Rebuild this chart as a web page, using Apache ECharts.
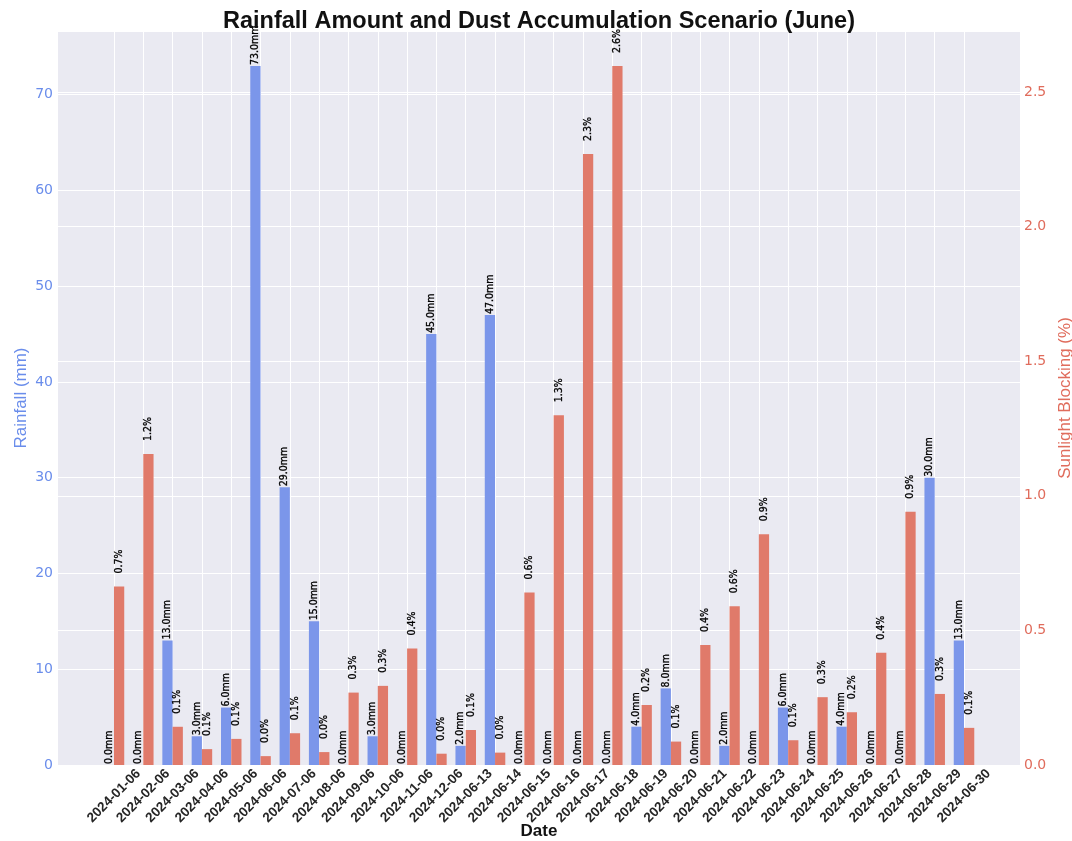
<!DOCTYPE html>
<html>
<head>
<meta charset="utf-8">
<title>Rainfall Amount and Dust Accumulation Scenario (June)</title>
<script src="https://cdn.jsdelivr.net/npm/echarts@6/dist/echarts.min.js"></script>
<style>
    html, body { margin: 0; padding: 0; background: #fff; }
    #chart { width: 1072px; height: 841px; }
</style>
</head>
<body>
<div id="chart"></div>
<script>
    // data
    const dates = [
        '2024-01-06', '2024-02-06', '2024-03-06', '2024-04-06', '2024-05-06', '2024-06-06',
        '2024-07-06', '2024-08-06', '2024-09-06', '2024-10-06', '2024-11-06', '2024-12-06',
        '2024-06-13', '2024-06-14', '2024-06-15', '2024-06-16', '2024-06-17', '2024-06-18',
        '2024-06-19', '2024-06-20', '2024-06-21', '2024-06-22', '2024-06-23', '2024-06-24',
        '2024-06-25', '2024-06-26', '2024-06-27', '2024-06-28', '2024-06-29', '2024-06-30'
    ];
    const rainfall = [0, 0, 13, 3, 6, 73, 29, 15, 0, 3, 0, 45, 2, 47, 0, 0, 0, 0, 4, 8, 0, 2, 0, 6, 0, 4, 0, 0, 30, 13];
    const sunlightBlocking = [
        0.663, 1.155, 0.142, 0.059, 0.097, 0.033, 0.118, 0.048, 0.269, 0.294,
        0.433, 0.042, 0.130, 0.046, 0.641, 1.299, 2.270, 2.597, 0.223, 0.087,
        0.446, 0.590, 0.857, 0.092, 0.252, 0.196, 0.417, 0.941, 0.264, 0.138
    ];
    const rainTicks = [0, 10, 20, 30, 40, 50, 60, 70];
    const blockTicks = [0.0, 0.5, 1.0, 1.5, 2.0, 2.5];

    const blue = '#7B96EA';
    const red = '#E07A6A';
    const blueText = '#6A8DEB';
    const redText = '#E06C5C';
    const sansFont = "'Liberation Sans', Arial, sans-serif";
    const labelFont = "'Liberation Sans Narrow', 'DejaVu Sans Condensed', sans-serif";

    const xIdx = dates.map((d, i) => i);

    const chart = echarts.init(document.getElementById('chart'));

    // rotated value label sitting on top of each bar
    function barLabel(distance, unit) {
        return {
            show: true,
            position: 'top',
            rotate: 90,
            align: 'left',
            verticalAlign: 'middle',
            distance: distance,
            fontFamily: labelFont,
            fontSize: 10.5,
            color: '#000',
            textBorderColor: '#000',
            textBorderWidth: 0.3,
            formatter: p => p.value[1].toFixed(1) + unit
        };
    }

    const option = {
        animation: false,
        backgroundColor: '#fff',
        title: {
            text: 'Rainfall Amount and Dust Accumulation Scenario (June)',
            left: 534,
            top: 5,
            textAlign: 'center',
            textStyle: {
                fontFamily: sansFont,
                fontSize: 23.5,
                fontWeight: 'bold',
                color: '#111'
            }
        },
        grid: {
            left: 58,
            right: 52,
            top: 31,
            bottom: 76,
            show: true,
            backgroundColor: '#EAEAF2',
            borderWidth: 0,
            containLabel: false,
            outerBoundsMode: 'none'
        },
        xAxis: {
            type: 'value',
            min: -1.91,
            max: dates.length - 1 + 1.91,
            name: 'Date',
            nameLocation: 'middle',
            nameGap: 58,
            nameMoveOverlap: false,
            nameTextStyle: {
                fontFamily: sansFont,
                fontSize: 17,
                fontWeight: 'bold',
                color: '#111'
            },
            axisLine: { show: false },
            axisTick: { show: false, customValues: xIdx },
            axisLabel: {
                customValues: xIdx,
                rotate: 45,
                align: 'center',
                verticalAlign: 'middle',
                margin: 31,
                fontFamily: sansFont,
                fontSize: 13.5,
                fontWeight: 'bold',
                color: '#262626',
                formatter: v => dates[Math.round(v)]
            },
            splitLine: { show: true, lineStyle: { color: '#fff', width: 1 } }
        },
        yAxis: [
            {
                type: 'value',
                min: 0,
                max: 76.65,
                interval: 10,
                name: 'Rainfall (mm)',
                nameLocation: 'middle',
                nameGap: 28,
                nameMoveOverlap: false,
                nameTextStyle: {
                    fontFamily: sansFont,
                    fontSize: 17,
                    color: blueText
                },
                axisLine: { show: false },
                axisTick: { show: false },
                axisLabel: {
                    showMaxLabel: false,
                    margin: 5,
                    fontFamily: "'DejaVu Sans', sans-serif",
                    fontSize: 14,
                    color: blueText,
                    formatter: v => (rainTicks.indexOf(v) >= 0 ? String(v) : '')
                },
                splitLine: { show: true, lineStyle: { color: '#fff', width: 1 } }
            },
            {
                type: 'value',
                min: 0,
                max: 2.727,
                interval: 0.5,
                name: 'Sunlight Blocking (%)',
                nameLocation: 'middle',
                nameGap: 37,
                nameMoveOverlap: false,
                nameTextStyle: {
                    fontFamily: sansFont,
                    fontSize: 17,
                    color: redText
                },
                axisLine: { show: false },
                axisTick: { show: false },
                axisLabel: {
                    showMaxLabel: false,
                    margin: 4,
                    fontFamily: "'DejaVu Sans', sans-serif",
                    fontSize: 14,
                    color: redText,
                    formatter: v => (blockTicks.indexOf(v) >= 0 ? v.toFixed(1) : '')
                },
                splitLine: { show: true, lineStyle: { color: '#fff', width: 1 } }
            }
        ],
        series: [
            {
                name: 'Rainfall',
                type: 'bar',
                yAxisIndex: 0,
                barWidth: 10.26,
                barGap: '0%',
                itemStyle: { color: blue },
                label: barLabel(1, 'mm'),
                data: rainfall.map((v, i) => [i, v])
            },
            {
                name: 'Sunlight Blocking',
                type: 'bar',
                yAxisIndex: 1,
                barWidth: 10.26,
                barGap: '0%',
                itemStyle: { color: red },
                label: barLabel(13, '%'),
                data: sunlightBlocking.map((v, i) => [i, v])
            }
        ]
    };

    chart.setOption(option);
</script>
</body>
</html>
